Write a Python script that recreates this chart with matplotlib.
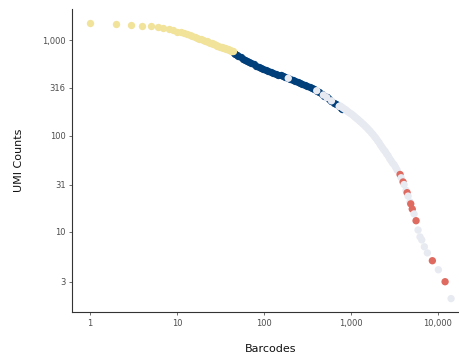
import matplotlib
matplotlib.use("Agg")
import matplotlib.pyplot as plt
from matplotlib.ticker import FixedLocator, FixedFormatter, NullLocator

# Barcode rank plot: UMI counts per barcode, ordered by rank
top_rank = list(range(1, 45))
top_umi = [1517, 1480, 1445, 1400, 1390, 1358, 1334, 1303, 1262, 1221,
           1200, 1180, 1155, 1130, 1105, 1075, 1055, 1035, 1015, 1000,
           985, 970, 952, 938, 925, 912, 900, 888, 876, 865,
           855, 846, 838, 830, 823, 816, 810, 803, 797, 790,
           783, 776, 770, 762]

cell_rank = [45, 47, 49, 51, 54, 57, 60, 64, 68, 72, 77, 82, 87, 93, 99,
             106, 113, 120, 128, 137, 146, 156, 166, 177, 189, 201, 215,
             229, 244, 260, 277, 295, 315, 336, 358, 382, 407, 434, 463,
             494, 527, 562, 599, 639, 681, 726, 774, 800]
cell_umi = [735, 714, 698, 682, 661, 641, 623, 604, 587, 573, 556, 540, 525,
            513, 501, 489, 478, 468, 457, 446, 436, 427, 418, 409, 400, 392,
            383, 375, 367, 359, 351, 343, 334, 326, 318, 308, 296, 285, 274,
            263, 252, 242, 232, 222, 213, 205, 196, 192]

bg_rank = [191, 406, 484, 530, 600, 735, 754, 785, 815, 848, 883, 918, 955,
           995, 1035, 1077, 1120, 1166, 1213, 1262, 1313, 1367, 1422, 1480,
           1540, 1603, 1668, 1736, 1806, 1880, 1955, 2035, 2117, 2203, 2292,
           2385, 2482, 2583, 2687, 2796, 2910, 3028, 3150, 3278, 3411, 3800,
           4105, 4328, 4563, 4811, 5348, 5945, 6268, 6561, 7031, 7610,
           10190, 14260]
bg_umi = [399, 296, 267, 251, 232, 203, 205, 200, 195, 190, 186, 180, 175,
          171, 167, 162, 157, 152, 148, 143, 139, 134, 130, 125,
          121, 116, 112, 107, 103, 98, 94, 89, 85, 80, 76,
          72, 69, 65, 62, 58, 55, 52, 50, 47, 44, 36.5,
          31, 27, 23.5, 20.4, 15.3, 10.4, 8.8, 8.2, 6.95, 6.0,
          4.0, 2.0]

mixed_rank = [3692, 4000, 4450, 4900, 5100, 5640, 8690, 12170]
mixed_umi = [39.5, 33.0, 25.5, 19.5, 17.2, 13.0, 4.97, 3.0]

x_ticks = [1, 10, 100, 1000, 10000]
x_tick_labels = ["1", "10", "100", "1,000", "10,000"]
y_ticks = [3, 10, 31, 100, 316, 1000]
y_tick_labels = ["3", "10", "31", "100", "316", "1,000"]

c_top = "#f2e39b"
c_cell = "#003f7a"
c_bg = "#e8eaf2"
c_mixed = "#de6a60"

fig = plt.figure(figsize=(4.59, 3.56), dpi=100)
ax = fig.add_axes([0.1569, 0.1225, 0.865, 0.8525])

size = 28
ax.scatter(cell_rank, cell_umi, s=size, color=c_cell, linewidths=0, zorder=2)
ax.scatter(top_rank, top_umi, s=size, color=c_top, linewidths=0, zorder=3)

# background and mixed barcodes drawn together in rank order
tail = sorted([(r, u, c_bg) for r, u in zip(bg_rank, bg_umi)] +
              [(r, u, c_mixed) for r, u in zip(mixed_rank, mixed_umi)])
ax.scatter([t[0] for t in tail], [t[1] for t in tail], s=size,
           c=[t[2] for t in tail], linewidths=0, zorder=4)

ax.set_xscale("log")
ax.set_yscale("log")
ax.set_xlim(10 ** -0.207, 10 ** 4.361)
ax.set_ylim(10 ** 0.157, 10 ** 3.325)

ax.xaxis.set_major_locator(FixedLocator(x_ticks))
ax.xaxis.set_major_formatter(FixedFormatter(x_tick_labels))
ax.xaxis.set_minor_locator(NullLocator())
ax.yaxis.set_major_locator(FixedLocator(y_ticks))
ax.yaxis.set_major_formatter(FixedFormatter(y_tick_labels))
ax.yaxis.set_minor_locator(NullLocator())

for side in ("top", "right"):
    ax.spines[side].set_visible(False)
for side in ("left", "bottom"):
    ax.spines[side].set_color("#333333")
    ax.spines[side].set_linewidth(0.8)

ax.tick_params(axis="both", length=2.5, width=0.6, color="#555555",
               labelsize=6, labelcolor="#4d4d4d", pad=2)

ax.set_xlabel("Barcodes", fontsize=8, color="#111111", labelpad=12)
ax.set_ylabel("UMI Counts", fontsize=8, color="#111111", labelpad=13)

fig.savefig("out.png", dpi=100)
